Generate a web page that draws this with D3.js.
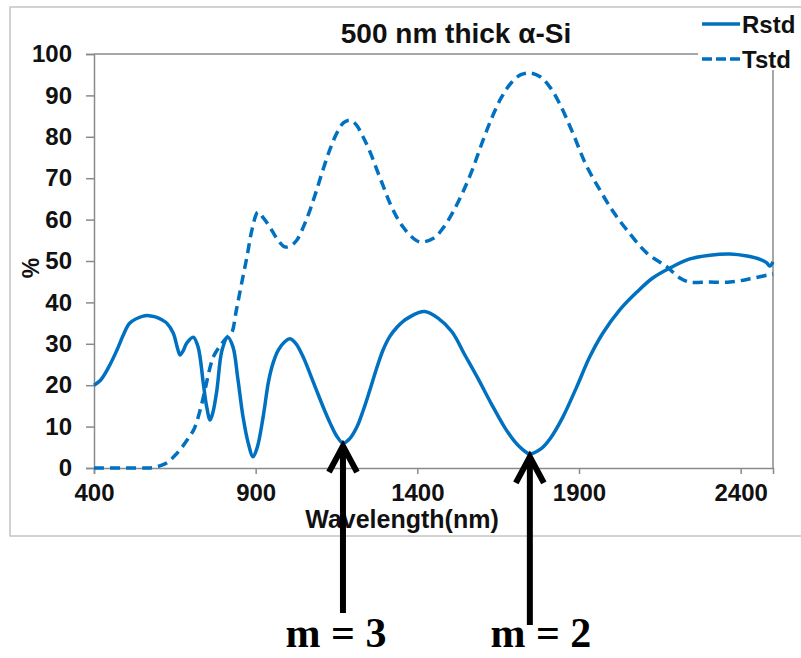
<!DOCTYPE html>
<html><head><meta charset="utf-8">
<script src="https://cdn.jsdelivr.net/npm/d3@7"></script>
<style>body{margin:0;background:#fff}svg{display:block}</style>
</head><body>
<svg id="c" width="801" height="658"></svg>
<script>
const rWl = [400,420,445,471,490,511,552,570,590,610,625,645,658,666,675,687,707,722,738,748,759,768,780,796,814,830,845,861,877,892,905,923,940,954,970,990,1006,1025,1047,1068,1088,1110,1130,1150,1170,1190,1213,1233,1253,1273,1294,1315,1337,1357,1377,1400,1423,1464,1507,1547,1587,1631,1671,1702,1725,1748,1785,1810,1850,1893,1933,1974,2026,2079,2128,2181,2243,2305,2367,2420,2460,2480,2490,2500];
const rVal = [20,21.2,24.3,28.5,32,35,36.7,36.8,36.5,35.8,35,32.6,29,27.3,28.2,30.2,31.6,29.2,20.5,15,11.6,13.5,18.8,28.5,31.6,29.2,21.5,12.3,6,2.7,5,12.3,21,25.4,28.5,30.5,31.2,30,26.8,22.8,18.8,14.5,10.9,7.8,6,7,9.9,14,18.8,23.8,28.5,31.8,34,35.5,36.5,37.4,37.8,36.2,32.9,27.3,21.7,15.2,9.7,6.3,4.5,3.4,4.8,7,12.3,19.6,26.8,32.6,38.2,42.5,45.9,48.3,50.5,51.4,51.7,51.2,50.4,49.6,48.8,49.8];
const tWl = [400,500,560,590,610,630,650,670,690,710,730,745,758,770,790,810,825,840,855,873,890,907,925,944,965,990,1010,1027,1048,1068,1088,1108,1130,1151,1172,1192,1212,1232,1254,1275,1295,1315,1335,1356,1380,1408,1450,1480,1510,1540,1570,1600,1630,1660,1690,1720,1748,1780,1810,1840,1881,1920,1965,2005,2048,2110,2172,2212,2243,2300,2367,2430,2500];
const tVal = [0,0,0,0.2,0.7,1.5,3,4.8,7,9.5,14.5,19.5,24,27,29.5,31.5,32.5,38,44,51,58,61.8,60.3,58.2,55.5,53.4,53.8,55,58.3,62.3,67,72,77,80.9,83.4,84,82.8,80,76.3,72,68,64,60.8,58.2,56,54.6,55.5,58,61.8,66.5,72,78.5,84.5,89.5,93,95,95.4,94.5,92,88,80.9,73.5,67.1,62,57.5,51.9,48.6,45.9,44.9,44.9,44.9,45.7,46.9];
const xTicks = [400,900,1400,1900,2400];
const yTicks = [0,10,20,30,40,50,60,70,80,90,100];
const seriesNames = ["Rstd","Tstd"];
const title = "500 nm thick \u03b1-Si";
const xTitle = "Wavelength(nm)";
const yTitle = "%";
const markWl = [1170,1748];
const markVal = [6,3.4];
const markLabels = ["m = 3","m = 2"];

const SANS = "Arial, 'Liberation Sans', sans-serif";
const SERIF = "'Liberation Serif','Times New Roman',serif";
const svg = d3.select("#c");
const L=94, R=773, T=54, B=468;
const x = d3.scaleLinear().domain([400,2500]).range([L,R]);
const y = d3.scaleLinear().domain([0,100]).range([B,T]);
const blue = "#0070C0", grid="#8a8a8a";

svg.append("rect").attr("x",10).attr("y",7).attr("width",800).attr("height",529)
  .attr("fill","none").attr("stroke","#c4c4c4").attr("stroke-width",1.5);

svg.append("path").attr("d",`M${L},${T}H${R}V${B}`).attr("fill","none").attr("stroke",grid).attr("stroke-width",1.5);

const ya = svg.append("g").attr("transform",`translate(${L},0)`)
  .call(d3.axisLeft(y).tickValues(yTicks).tickSize(8).tickPadding(14).tickFormat(d3.format("d")));
const xa = svg.append("g").attr("transform",`translate(0,${B})`)
  .call(d3.axisBottom(x).tickValues(xTicks).tickSize(6).tickPadding(10).tickFormat(d3.format("d")));
[ya,xa].forEach(a=>{
  a.select(".domain").attr("stroke",grid).attr("stroke-width",1.5);
  a.selectAll(".tick line").attr("stroke",grid).attr("stroke-width",1.5);
  a.selectAll(".tick text").style("font-family",SANS).style("font-size","24px").style("font-weight","bold").attr("fill","#111");
});

const line = d3.line().x(d=>x(d[0])).y(d=>y(d[1])).curve(d3.curveCatmullRom.alpha(0.5));
svg.append("path").datum(tWl.map((w,i)=>[w,tVal[i]])).attr("d",line)
  .attr("fill","none").attr("stroke",blue).attr("stroke-width",3.5).attr("stroke-dasharray","10,6");
svg.append("path").datum(rWl.map((w,i)=>[w,rVal[i]])).attr("d",line)
  .attr("fill","none").attr("stroke",blue).attr("stroke-width",3.5);

function txt(xx,yy,s,size,anchor,fam){
  return svg.append("text").attr("x",xx).attr("y",yy).attr("text-anchor",anchor||"middle")
    .style("font-family",fam||SANS).style("font-size",size+"px").style("font-weight","bold").attr("fill","#111").text(s);
}
txt(456,43,title,28);
txt(402,528,xTitle,25);
svg.append("text").attr("transform","translate(39,268) rotate(-90)").attr("text-anchor","middle")
  .style("font-family",SANS).style("font-size","23px").style("font-weight","bold").attr("fill","#111").text(yTitle);

const lg = svg.append("g");
lg.append("rect").attr("x",698).attr("y",8).attr("width",110).attr("height",62).attr("fill","#fff");
[0,1].forEach(i=>{
  const ly = [24,59][i];
  lg.append("line").attr("x1",702).attr("x2",740).attr("y1",ly).attr("y2",ly)
    .attr("stroke",blue).attr("stroke-width",3.5).attr("stroke-dasharray",i?"10,4":null);
  txt(742,ly+9,seriesNames[i],24,"start");
});

const shaftBottom=[613,625], labelDx=[-7,11];
markWl.forEach((w,i)=>{
  const ax=x(w), ay=y(markVal[i])+2;
  const g=svg.append("g").attr("stroke","#000").attr("stroke-width",6).attr("fill","none");
  g.append("line").attr("x1",ax).attr("x2",ax).attr("y1",ay+4).attr("y2",shaftBottom[i]);
  g.append("path").attr("d",`M${ax-14},${ay+27}L${ax},${ay+1}L${ax+14},${ay+27}`).attr("stroke-linejoin","miter");
  txt(ax+labelDx[i],647,markLabels[i],42,"middle",SERIF).attr("fill","#000");
});
</script>
</body></html>
